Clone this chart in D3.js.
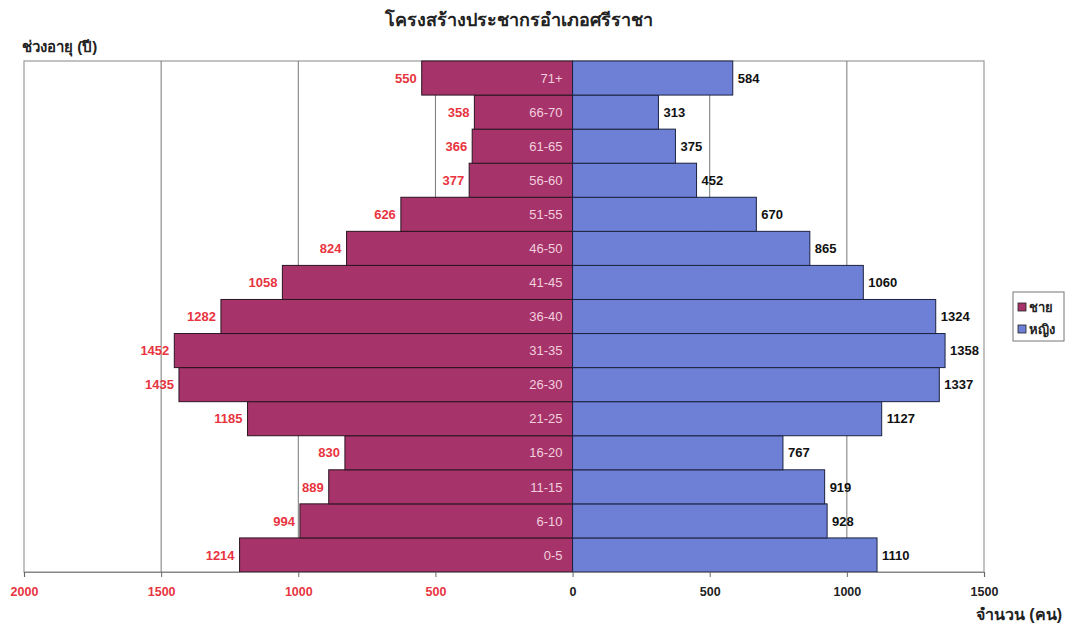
<!DOCTYPE html>
<html>
<head>
<meta charset="utf-8">
<script src="https://cdn.jsdelivr.net/npm/d3@7/dist/d3.min.js"></script>
<style>
  html, body { margin: 0; padding: 0; background: #fff; }
  svg { display: block; }
  text { font-family: "Liberation Sans", Arial, "Noto Sans", sans-serif; }
</style>
</head>
<body>
<svg id="chart" width="1067" height="625"></svg>
<script>
// Age groups, youngest first
const ageGroups = ["0-5", "6-10", "11-15", "16-20", "21-25", "26-30", "31-35", "36-40",
                   "41-45", "46-50", "51-55", "56-60", "61-65", "66-70", "71+"];
// Population by sex for each age group
const male   = [1214, 994, 889, 830, 1185, 1435, 1452, 1282, 1058, 824, 626, 377, 366, 358, 550];
const female = [1110, 928, 919, 767, 1127, 1337, 1358, 1324, 1060, 865, 670, 452, 375, 313, 584];
// Axis ticks (males plotted to the left of zero)
const tickValues = [-2000, -1500, -1000, -500, 0, 500, 1000, 1500];
const seriesNames = ["ชาย", "หญิง"];

const titleText = "โครงสร้างประชากรอำเภอศรีราชา";
const yTitleText = "ช่วงอายุ (ปี)";
const xTitleText = "จำนวน (คน)";

const maleColor = "#a6346b";
const femaleColor = "#6d80d6";
const maleLabelColor = "#e8343f";

const svg = d3.select("#chart");
const plot = { left: 24, right: 984, top: 61, bottom: 572 };

const x = d3.scaleLinear().domain([-2000, 1500]).range([plot.left, plot.right]);
const y = d3.scaleBand()
  .domain(ageGroups.slice().reverse())
  .range([plot.top, plot.bottom])
  .paddingInner(0).paddingOuter(0);

const rows = ageGroups.map((g, i) => ({ group: g, male: male[i], female: female[i] }));

// Plot frame
svg.append("rect")
  .attr("x", plot.left).attr("y", plot.top)
  .attr("width", plot.right - plot.left).attr("height", plot.bottom - plot.top)
  .attr("fill", "none").attr("stroke", "#9a9a9a").attr("stroke-width", 1.2);

// Vertical gridlines
svg.append("g")
  .selectAll("line")
  .data(tickValues.filter(v => v !== 0 && v !== -2000 && v !== 1500))
  .join("line")
  .attr("x1", d => x(d)).attr("x2", d => x(d))
  .attr("y1", plot.top).attr("y2", plot.bottom)
  .attr("stroke", "#777").attr("stroke-width", 1);

// Male bars (to the left)
svg.append("g")
  .selectAll("rect")
  .data(rows)
  .join("rect")
  .attr("x", d => x(-d.male))
  .attr("y", d => y(d.group))
  .attr("width", d => x(0) - x(-d.male))
  .attr("height", y.bandwidth())
  .attr("fill", maleColor)
  .attr("stroke", "#2a1420").attr("stroke-width", 1);

// Female bars (to the right)
svg.append("g")
  .selectAll("rect")
  .data(rows)
  .join("rect")
  .attr("x", x(0))
  .attr("y", d => y(d.group))
  .attr("width", d => x(d.female) - x(0))
  .attr("height", y.bandwidth())
  .attr("fill", femaleColor)
  .attr("stroke", "#1c2240").attr("stroke-width", 1);

// Bottom axis
const axis = d3.axisBottom(x)
  .tickValues(tickValues)
  .tickSize(5)
  .tickFormat(d => Math.abs(d));
const axisG = svg.append("g")
  .attr("transform", `translate(0,${plot.bottom})`)
  .call(axis);
axisG.select(".domain").attr("stroke", "#888").attr("stroke-width", 1.2);
axisG.selectAll(".tick line").attr("stroke", "#666");
axisG.selectAll(".tick text")
  .attr("dy", "1.25em")
  .style("font-size", "12.5px")
  .style("font-weight", "bold")
  .attr("fill", d => d < 0 ? maleLabelColor : "#222");

// Age group labels inside the male bars
svg.append("g")
  .selectAll("text")
  .data(rows)
  .join("text")
  .attr("x", x(0) - 10)
  .attr("y", d => y(d.group) + y.bandwidth() / 2)
  .attr("dy", "0.36em")
  .attr("text-anchor", "end")
  .attr("fill", "#f2cfdc")
  .style("font-size", "13px")
  .text(d => d.group);

// Male value labels
svg.append("g")
  .selectAll("text")
  .data(rows)
  .join("text")
  .attr("x", d => x(-d.male) - 5)
  .attr("y", d => y(d.group) + y.bandwidth() / 2)
  .attr("dy", "0.36em")
  .attr("text-anchor", "end")
  .attr("fill", maleLabelColor)
  .style("font-size", "13px")
  .style("font-weight", "bold")
  .text(d => d.male);

// Female value labels
svg.append("g")
  .selectAll("text")
  .data(rows)
  .join("text")
  .attr("x", d => x(d.female) + 5)
  .attr("y", d => y(d.group) + y.bandwidth() / 2)
  .attr("dy", "0.36em")
  .attr("text-anchor", "start")
  .attr("fill", "#111")
  .style("font-size", "13px")
  .style("font-weight", "bold")
  .text(d => d.female);

// Titles
svg.append("text")
  .attr("x", 519).attr("y", 26)
  .attr("text-anchor", "middle")
  .attr("fill", "#222")
  .style("font-size", "18px").style("font-weight", "bold")
  .text(titleText);

svg.append("text")
  .attr("x", 22).attr("y", 52)
  .attr("fill", "#222")
  .style("font-size", "15px").style("font-weight", "bold")
  .text(yTitleText);

svg.append("text")
  .attr("x", 1062).attr("y", 620)
  .attr("text-anchor", "end")
  .attr("fill", "#222")
  .style("font-size", "16px").style("font-weight", "bold")
  .text(xTitleText);

// Legend
const legend = svg.append("g").attr("transform", "translate(1013,292)");
legend.append("rect")
  .attr("width", 51).attr("height", 49)
  .attr("fill", "#fff").attr("stroke", "#777").attr("stroke-width", 1);
const legendColors = [maleColor, femaleColor];
const li = legend.selectAll("g.item")
  .data(seriesNames)
  .join("g")
  .attr("class", "item")
  .attr("transform", (d, i) => `translate(5,${11 + i * 22})`);
li.append("rect")
  .attr("width", 8).attr("height", 8)
  .attr("fill", (d, i) => legendColors[i])
  .attr("stroke", "#222").attr("stroke-width", 0.8);
li.append("text")
  .attr("x", 11).attr("y", 4)
  .attr("dy", "0.36em")
  .attr("fill", "#222")
  .style("font-size", "13px").style("font-weight", "bold")
  .text(d => d);
</script>
</body>
</html>
